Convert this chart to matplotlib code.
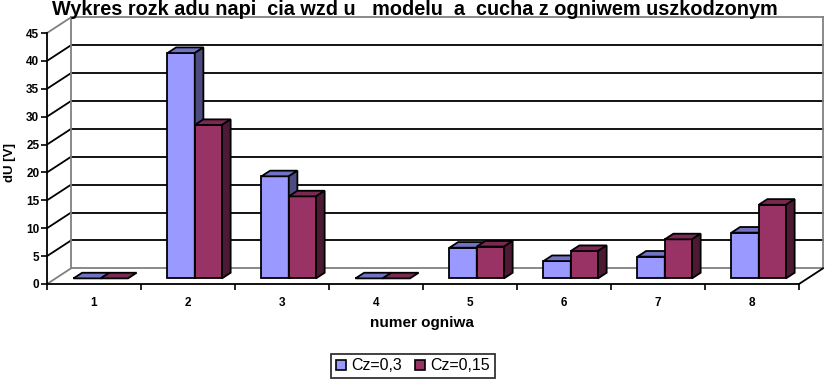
import numpy as np
import matplotlib
matplotlib.use('Agg')
import matplotlib.pyplot as plt
from matplotlib.patches import Patch

plt.rcParams['font.family'] = ['Liberation Sans', 'DejaVu Sans']

# data
categories = ['1', '2', '3', '4', '5', '6', '7', '8']
cz_03 = [0, 40.4, 18.3, 0, 5.5, 3.1, 3.9, 8.2]
cz_015 = [0, 27.5, 14.7, 0, 5.7, 4.9, 7.0, 13.2]
series_names = ['Cz=0,3', 'Cz=0,15']
y_ticks = list(range(0, 50, 5))
title = 'Wykres rozk adu napi  cia wzd u   modelu  a  cucha z ogniwem uszkodzonym'

# excel-ish colours: front, top, side
colors_03 = ('#9999ff', '#7272c4', '#4c4c80')
colors_015 = ('#993366', '#7a2952', '#4c1a33')

W, H = 825, 381
fig = plt.figure(figsize=(W / 100, H / 100), dpi=100)
ax = fig.add_axes([47 / W, 1 - 284 / H, 752 / W, 251 / H])
ax.set_xlim(0.5, 8.5)
ax.set_ylim(0, 45)

# oblique depth of the plot box (data units) and bar depth fractions
DX, DY = 0.255, 2.8
f0, f1 = 0.36, 0.72
width = 0.29

# back wall + left wall gridlines
bx0, bx1 = 0.5 + DX, 8.5 + DX
for v in y_ticks:
    c = '#808080' if v in (0, 45) else 'black'
    ax.plot([bx0, bx1], [v + DY, v + DY], color=c, lw=1.3, zorder=0.5, clip_on=False)
    ax.plot([0.5, bx0], [v, v + DY], color=c, lw=1.3, zorder=0.5, clip_on=False)
ax.plot([bx0, bx0], [DY, 45 + DY], color='#808080', lw=1.3, zorder=0.5, clip_on=False)
ax.plot([bx1, bx1], [DY, 45 + DY], color='#808080', lw=1.3, zorder=0.5, clip_on=False)
ax.plot([8.5, bx1], [0, DY], color='black', lw=1.3, zorder=0.5, clip_on=False)

x = np.arange(1, len(categories) + 1)
for vals, off, (front, top, side) in [(cz_03, -0.31, colors_03), (cz_015, -0.02, colors_015)]:
    xl = x + off
    ax.bar(xl + f0 * DX, vals, width, bottom=f0 * DY, align='edge', color=front,
           edgecolor='black', lw=1.3, clip_on=False)
    for xi, v in zip(xl, vals):
        ax.fill([xi + f0 * DX, xi + width + f0 * DX, xi + width + f1 * DX, xi + f1 * DX],
                [v + f0 * DY, v + f0 * DY, v + f1 * DY, v + f1 * DY],
                facecolor=top, edgecolor='black', lw=1.3, clip_on=False)
        if v > 0:
            xr = xi + width
            ax.fill([xr + f0 * DX, xr + f1 * DX, xr + f1 * DX, xr + f0 * DX],
                    [f0 * DY, f1 * DY, v + f1 * DY, v + f0 * DY],
                    facecolor=side, edgecolor='black', lw=1.3, clip_on=False)

for s in ['top', 'right']:
    ax.spines[s].set_visible(False)
for s in ['left', 'bottom']:
    ax.spines[s].set_linewidth(1.3)
    ax.spines[s].set_zorder(3)

ax.set_yticks(y_ticks)
ax.set_yticklabels([str(t) for t in y_ticks], fontsize=8.5, fontweight='bold')
ax.tick_params(axis='y', length=4, width=1.2, pad=1.5)
ax.set_xticks(x)
ax.set_xticklabels(categories, fontsize=8.5, fontweight='bold')
ax.set_xticks(np.arange(0.5, 9, 1), minor=True)
ax.tick_params(axis='x', which='major', length=0, pad=9)
ax.tick_params(axis='x', which='minor', length=4, width=1.2)

fig.text(10 / W, 1 - 162 / H, 'dU [V]', rotation=90, ha='center', va='center',
         fontsize=9.5, fontweight='bold')
fig.text(422 / W, 1 - 323 / H, 'numer ogniwa', ha='center', va='center',
         fontsize=11, fontweight='bold')
fig.text(415 / W, 1 - 15 / H, title, ha='center', va='baseline',
         fontsize=14.3, fontweight='bold')

handles = [Patch(facecolor=colors_03[0], edgecolor='black', lw=1.2),
           Patch(facecolor=colors_015[0], edgecolor='black', lw=1.2)]
leg = fig.legend(handles, series_names, loc='center', bbox_to_anchor=(413 / W, 1 - 366 / H),
                 ncol=2, fontsize=11.5, frameon=True, fancybox=False, handlelength=0.6,
                 handleheight=0.6, handletextpad=0.35, columnspacing=0.8, borderpad=0.3,
                 borderaxespad=0)
leg.get_frame().set_edgecolor('black')
leg.get_frame().set_linewidth(1.3)

fig.savefig('out.png', dpi=100)
